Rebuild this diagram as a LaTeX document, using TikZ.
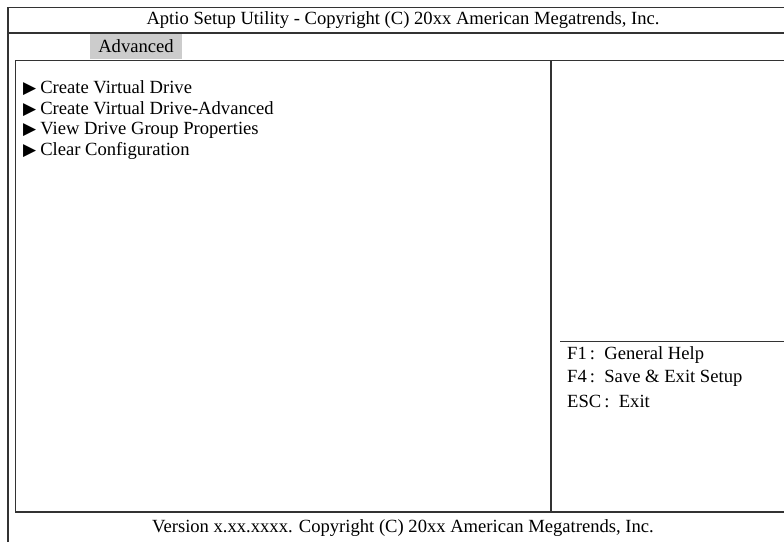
\documentclass[tikz,border=0pt]{standalone}
\usepackage{fontspec}
\setmainfont{Liberation Serif}
\newfontfamily\symfont{DejaVu Sans}
\tikzset{
	frame/.style={line width=1.4pt,black!80},
	item/.style={anchor=west,inner sep=0pt,font=\fontsize{18.6}{20}\selectfont},
	help/.style={anchor=west,inner sep=0pt,font=\fontsize{18.6}{20}\selectfont},
}
\newcommand{\arr}{{\symfont\fontsize{17}{17}\selectfont ▶}\hspace{4pt}}
\begin{document}
\begin{tikzpicture}[x=1pt,y=-1pt]
		\useasboundingbox (0,0) rectangle (784,542);
		% outer frame and title bar
		\draw[frame] (8,542) -- (8,7.5) -- (784,7.5);
		\draw[frame] (8,33) -- (784,33);
		\node[inner sep=0pt,font=\fontsize{18.6}{20}\selectfont] (title) at (403,20.5) {Aptio Setup Utility - Copyright (C) 20xx American Megatrends, Inc.};
		% tab
		\fill[black!20] (90,34) rectangle (182,59);
		\node[inner sep=0pt,font=\fontsize{18.6}{20}\selectfont] (tab) at (136,46.5) {Advanced};
		% main panel
		\draw[frame] (784,60.5) -- (15.5,60.5) -- (15.5,512) -- (784,512);
		\draw[frame] (551,60.5) -- (551,512);
		\draw[line width=1pt,black!80] (560,341) -- (784,341);
		% menu items
		\node[item] (create) at (23,88) {\arr Create Virtual Drive};
		\node[item] (createadv) at (23,109) {\arr Create Virtual Drive-Advanced};
		\node[item] (view) at (23,130) {\arr View Drive Group Properties};
		\node[item] (clear) at (23,151) {\arr Clear Configuration};
		% help keys
		\node[help] (fone) at (567,355) {F1\,:\ \ General Help};
		\node[help] (ffour) at (567,378) {F4\,:\ \ Save \& Exit Setup};
		\node[help] (esc) at (567,401) {ESC\,:\ \ Exit};
		% footer
		\node[inner sep=0pt,font=\fontsize{18.6}{20}\selectfont] (footer) at (403,528) {Version x.xx.xxxx. Copyright (C) 20xx American Megatrends, Inc.};
	\end{tikzpicture}
\end{document}
